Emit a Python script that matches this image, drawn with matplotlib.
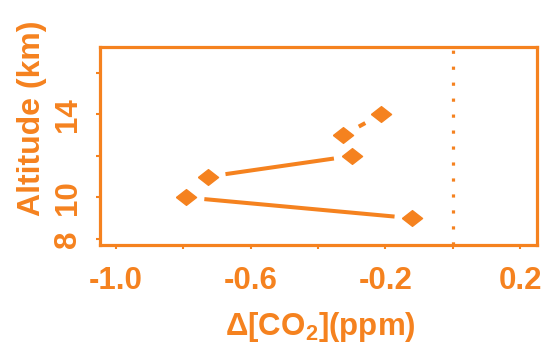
"""Altitude profile of the CO2 change, drawn R-style (type="b": points joined by gapped lines)."""

import matplotlib
matplotlib.use("Agg")
import matplotlib.pyplot as plt
import numpy as np

ORANGE = "#F5821F"

# values
altitude_km = [9, 10, 11, 12, 13, 14]
delta_co2 = [-0.12, -0.79, -0.727, -0.30, -0.326, -0.213]

x_ticks = [-1.0, -0.8, -0.6, -0.4, -0.2, 0.0, 0.2]
x_ticklabels = ["-1.0", "", "-0.6", "", "-0.2", "", "0.2"]
y_ticks = [8, 10, 12, 14, 16]
y_ticklabels = ["8", "10", "", "14", ""]

plt.rcParams["font.family"] = ["Liberation Sans", "DejaVu Sans"]
plt.rcParams["font.weight"] = "bold"
plt.rcParams["mathtext.default"] = "regular"

fig = plt.figure(figsize=(5.46, 3.45), dpi=100)
ax = fig.add_axes([0.1832, 0.2899, 0.8003, 0.5739])
ax.set_xlim(-1.046, 0.249)
ax.set_ylim(7.71, 17.25)

for sp in ax.spines.values():
    sp.set_color(ORANGE)
    sp.set_linewidth(2.3)

ax.axvline(0, color=ORANGE, lw=2.3, ls=(0, (1, 4)), zorder=1)

# R type="b": line segments stop short of each point
gap = 18.0  # px from the point centre
pts = ax.transData.transform(np.column_stack([delta_co2, altitude_km]))
inv = ax.transData.inverted()
for p0, p1 in zip(pts[:-1], pts[1:]):
    d = p1 - p0
    n = np.hypot(*d)
    if n <= 2 * gap:
        continue
    u = d / n
    seg = inv.transform(np.vstack([p0 + u * gap, p1 - u * gap]))
    ax.plot(seg[:, 0], seg[:, 1], color=ORANGE, lw=2.9, solid_capstyle="butt", zorder=2)

diamond = [(-1, 0), (0, 0.78), (1, 0), (0, -0.78), (-1, 0)]
ax.plot(delta_co2, altitude_km, ls="none", marker=diamond, ms=14.5,
        color=ORANGE, mec=ORANGE, zorder=3)

ax.set_xticks(x_ticks)
ax.set_xticklabels(x_ticklabels)
ax.set_yticks(y_ticks)
ax.set_yticklabels(y_ticklabels, rotation=90, va="center")
ax.tick_params(axis="both", colors=ORANGE, labelsize=22.5, width=1.5, length=3)
ax.tick_params(axis="x", pad=12)
ax.tick_params(axis="y", pad=9)

ax.set_xlabel("Δ[CO$_2$](ppm)", color=ORANGE, fontsize=22.5, fontweight="bold")
ax.set_ylabel("Altitude (km)", color=ORANGE, fontsize=23, fontweight="bold")
ax.xaxis.set_label_coords(0.505, -0.33)
ax.yaxis.set_label_coords(-0.122, 0.64)

fig.savefig("out.png", dpi=100)
